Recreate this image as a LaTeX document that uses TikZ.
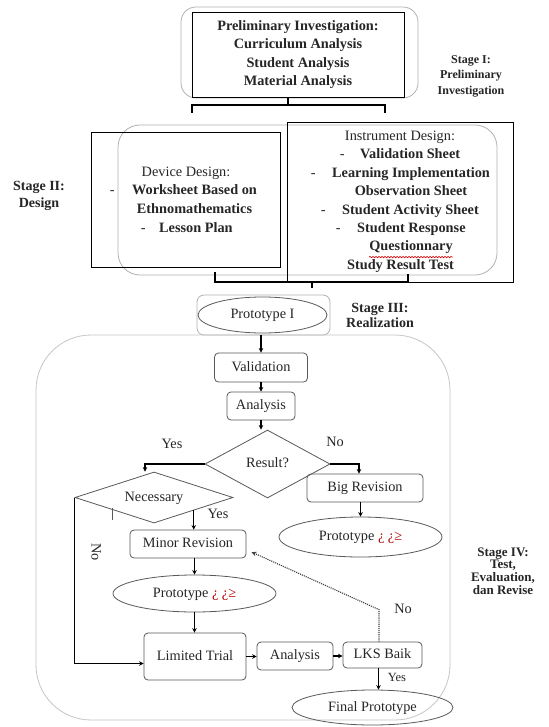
\documentclass[tikz,border=0pt]{standalone}
\usepackage{fontspec}
\setmainfont{Liberation Serif}
\usetikzlibrary{shapes.geometric,arrows.meta,decorations.pathmorphing,calc}
\begin{document}
\begin{tikzpicture}[x=1pt,y=-1pt,
  txt/.style={inner sep=0pt, text height=10pt, text depth=3pt, text=black!85, font=\fontsize{14.3}{17}\selectfont},
  btxt/.style={txt, font=\bfseries\fontsize{14.3}{17}\selectfont},
  box/.style={txt, draw=black!65, line width=0.8pt, rounded corners=4pt},
  ell/.style={txt, ellipse, draw=black!65, line width=0.8pt},
  dia/.style={txt, diamond, draw=black!65, line width=0.8pt},
  frame/.style={draw=gray!60, line width=0.8pt, inner sep=0pt},
  sqbox/.style={draw=black, line width=0.9pt, inner sep=0pt},
  arr/.style={-{Stealth[length=4.5pt,width=4.5pt]}, line width=1.1pt, black},
  dotarr/.style={-{Stealth[length=5pt,width=4.5pt]}, line width=1.1pt, black!75, densely dotted},
  brk/.style={line width=1.6pt, black},
  stagelbl/.style={align=center, inner sep=0pt, text=black!85}]

\fill[white] (0,0) rectangle (548,727);
\useasboundingbox (0,0) rectangle (548,727);

% ---------- Stage I ----------
\node[frame, rounded corners=15pt, minimum width=237pt, minimum height=91pt] (s1frame) at (299.5,52.5) {};
\node[sqbox, minimum width=212pt, minimum height=85pt, align=center, text=black!85,
      font=\bfseries\fontsize{14.3}{18.3}\selectfont] (s1) at (298,54.5)
  {Preliminary Investigation:\\Curriculum Analysis\\Student Analysis\\Material Analysis};
\node[stagelbl, font=\bfseries\fontsize{12}{15.5}\selectfont] (st1) at (471,76) {Stage I:\\Preliminary\\Investigation};

\coordinate (b1m) at (288,105);
\coordinate (b1l) at (192,113);
\coordinate (b1r) at (385,113);
\draw[brk] (s1.south -| b1m) -- (b1m);
\draw[brk] (b1l) -- (b1l |- b1m) -- (b1r |- b1m) -- (b1r);

% ---------- Stage II ----------
\node[frame, rounded corners=22pt, minimum width=379pt, minimum height=150pt] (s2frame) at (307.5,200) {};
\node[sqbox, minimum width=189pt, minimum height=135pt] (dev) at (185.5,199.5) {};
\node[sqbox, minimum width=226pt, minimum height=160pt] (ins) at (400,202) {};

\node[txt] (d1) at (186,173) {Device Design:};
\node[txt, anchor=west] (d2) at (109.7,191.5) {-\hspace{17.5pt}\textbf{Worksheet Based on}};
\node[btxt] (d3) at (194.5,210) {Ethnomathematics};
\node[txt, anchor=west] (d4) at (140.7,228.5) {-\hspace{13.5pt}\textbf{Lesson Plan}};

\node[txt] (i1) at (400,137) {Instrument Design:};
\node[txt, anchor=west] (i2) at (339.7,155.4) {-\hspace{15.5pt}\textbf{Validation Sheet}};
\node[txt, anchor=west] (i3) at (310.7,173.8) {-\hspace{16.5pt}\textbf{Learning Implementation}};
\node[btxt] (i4) at (411,192.2) {Observation Sheet};
\node[txt, anchor=west] (i5) at (320.7,210.6) {-\hspace{16.5pt}\textbf{Student Activity Sheet}};
\node[txt, anchor=west] (i6) at (335.7,229) {-\hspace{16.5pt}\textbf{Student Response}};
\node[btxt] (i7) at (411,247.4) {Questionnary};
\node[btxt] (i8) at (400.5,265.8) {Study Result Test};
\draw[red!85!black, line width=0.6pt, decorate, decoration={snake, amplitude=0.7pt, segment length=3pt}]
  ([yshift=-3pt]i7.south west) -- ([yshift=-3pt]i7.south east);

\node[stagelbl, font=\bfseries\fontsize{14}{17}\selectfont] (st2) at (39,195.5) {Stage II:\\Design};

\coordinate (b2l) at (215,272);
\coordinate (b2r) at (408,274);
\coordinate (b2m) at (312,282);
\draw[brk] (b2l) -- (b2l |- b2m) -- (b2r |- b2m) -- (b2r);
\draw[brk] (b2m) -- ++(0,6);

% ---------- Stage III ----------
\node[frame, rounded corners=7pt, minimum width=133pt, minimum height=40pt] (p1frame) at (263.5,315) {};
\node[ell, minimum width=129pt, minimum height=36pt] (p1) at (262.5,315) {Prototype I};
\node[stagelbl, font=\bfseries\fontsize{14}{15}\selectfont] (st3) at (380,315.5) {Stage III:\\Realization};

% ---------- Stage IV ----------
\node[frame, draw=gray!45, rounded corners=55pt, minimum width=414pt, minimum height=385pt] (s4frame) at (243,527.5) {};
\node[stagelbl, font=\bfseries\fontsize{13}{12.6}\selectfont] (st4) at (503,571) {Stage IV:\\Test,\\Evaluation,\\dan Revise};

\node[box, minimum width=93pt, minimum height=29pt] (val) at (261,367.5) {Validation};
\node[box, minimum width=68pt, minimum height=28pt] (ana) at (261,406) {Analysis};
\node[dia, aspect=1.84, minimum width=125pt, minimum height=68pt] (res) at (267.5,464) {Result?};
\node[dia, aspect=3.1, minimum width=158pt, minimum height=51pt] (nec) at (154,497.5) {Necessary};
\node[box, minimum width=116pt, minimum height=28pt] (big) at (365,488) {Big Revision};
\node[ell, minimum width=163pt, minimum height=40pt] (pr3) at (360.5,537) {Prototype \textcolor{red!70!black}{¿ ¿≥}};
\node[box, minimum width=116pt, minimum height=28pt] (minor) at (188,544) {Minor Revision};
\node[ell, minimum width=163pt, minimum height=37pt] (pr2) at (194.5,593.5) {Prototype \textcolor{red!70!black}{¿ ¿≥}};
\node[box, minimum width=102pt, minimum height=47pt] (lim) at (195,656.5) {Limited Trial};
\node[box, minimum width=76pt, minimum height=28pt] (ana2) at (295,656) {Analysis};
\node[box, minimum width=79pt, minimum height=26pt] (lks) at (382.5,655) {LKS Baik};
\node[ell, minimum width=161pt, minimum height=35pt] (fin) at (372.5,707.5) {Final Prototype};

% arrows
\draw[arr] (val.north |- p1frame.south) -- (val.north);
\draw[arr] (val.south) -- (ana.north);
\draw[arr] (ana.south) -- (ana.south |- res.north);
\draw[arr] (res.west) -| ([xshift=-9pt]nec.north);
\draw[arr] (res.east) -| ([xshift=-6pt]big.north);
\draw[arr] (big.south -| pr3.north) -- (pr3.north);
\draw[arr] (nec.south east) -- (nec.south east |- minor.north);
\draw[arr] (minor.south -| pr2.north) -- (pr2.north);
\draw[arr] (pr2.south) -- (pr2.south |- lim.north);
\draw[arr] (nec.west) |- ([yshift=-7pt]lim.west);
\draw[arr] (lim.east) -- (lim.east -| ana2.west);
\draw[arr] (ana2.east) -- (ana2.east -| lks.west);
\draw[arr] ([xshift=-4pt]lks.south) -- ([xshift=-4pt]lks.south |- fin.north);
\draw[dotarr] ([xshift=-3.5pt]lks.north) -- ++(0,-32) -- ([xshift=5pt,yshift=-8pt]minor.east);
\draw[black!65, line width=0.8pt] (112,508) -- (112,520);

% labels
\node[txt] (lyes1) at (172,445) {Yes};
\node[txt] (lno1) at (335,443) {No};
\node[txt] (lyes2) at (218,515) {Yes};
\node[txt, rotate=-90] (lno2) at (95,552) {No};
\node[txt] (lno3) at (403,610) {No};
\node[txt, font=\fontsize{12.5}{15}\selectfont] (lyes3) at (397,678) {Yes};
\end{tikzpicture}
\end{document}
